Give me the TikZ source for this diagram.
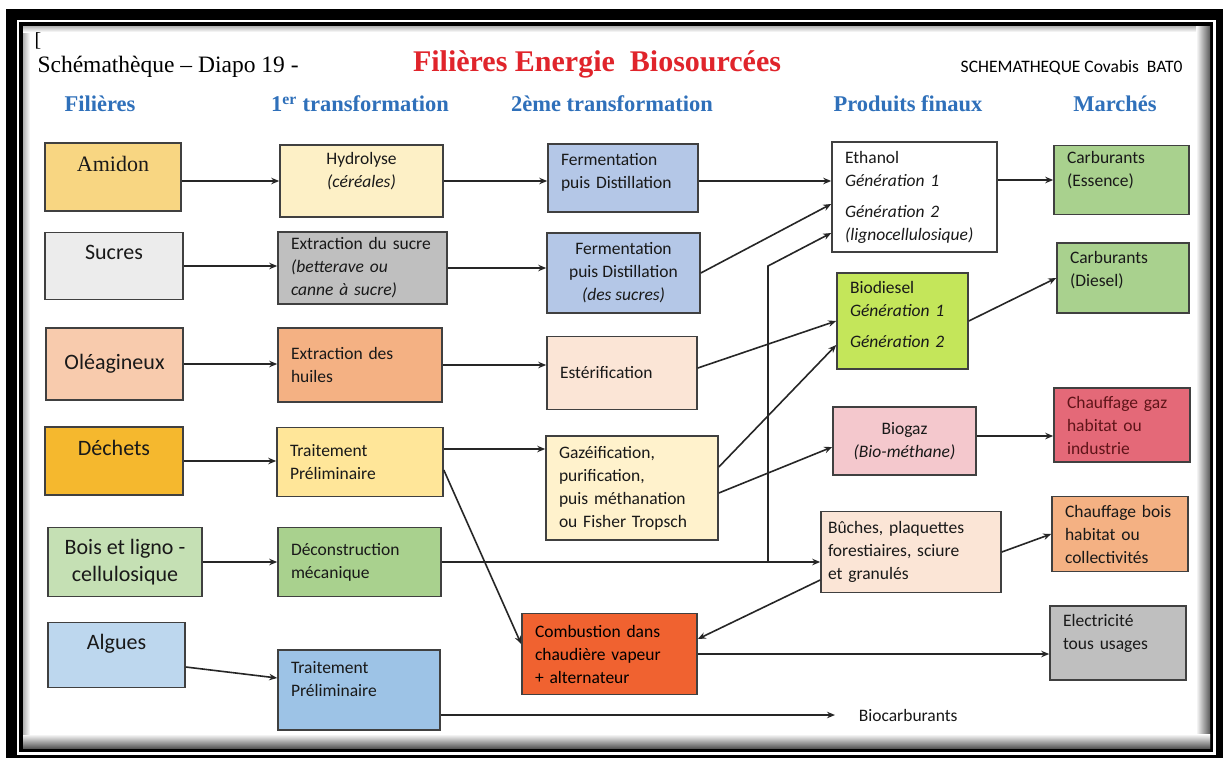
\documentclass[tikz,border=0pt]{standalone}
\usepackage{fontspec}
\setmainfont{Liberation Serif}
\setsansfont{Carlito}
\usetikzlibrary{arrows.meta,positioning,calc}
\definecolor{hdblue}{RGB}{47,112,186}
\definecolor{titred}{RGB}{224,36,43}
\definecolor{gazred}{RGB}{95,20,25}
\definecolor{amidonc}{RGB}{248,214,130}
\definecolor{hydroc}{RGB}{253,240,198}
\definecolor{sucrec}{RGB}{236,236,236}
\definecolor{grisc}{RGB}{191,191,191}
\definecolor{oleac}{RGB}{248,203,173}
\definecolor{huilec}{RGB}{244,177,131}
\definecolor{dechc}{RGB}{245,184,46}
\definecolor{traitc}{RGB}{255,230,153}
\definecolor{boisc}{RGB}{197,224,180}
\definecolor{deconc}{RGB}{169,209,142}
\definecolor{alguec}{RGB}{189,215,238}
\definecolor{traitalgc}{RGB}{157,195,230}
\definecolor{fermc}{RGB}{180,199,231}
\definecolor{esterc}{RGB}{251,229,214}
\definecolor{gazc}{RGB}{255,242,204}
\definecolor{combc}{RGB}{240,98,48}
\definecolor{biodc}{RGB}{196,230,90}
\definecolor{biogc}{RGB}{244,200,205}
\definecolor{buchc}{RGB}{251,229,214}
\definecolor{carbc}{RGB}{169,209,142}
\definecolor{chgazc}{RGB}{228,105,120}
\definecolor{chboisc}{RGB}{244,177,131}

\begin{document}
\begin{tikzpicture}[x=1pt, y=-1pt,
	box/.style={draw=black!75, line width=1.6pt, inner xsep=13pt, inner ysep=0pt, text=black!90, font=\sffamily\fontsize{17.5}{23}\selectfont},
	src/.style={box, align=center, font=\sffamily\fontsize{22}{27}\selectfont},
	lbox/.style={box, align=left},
	cbox/.style={box, align=center},
	head/.style={text=hdblue, font=\bfseries\fontsize{22.5}{26}\selectfont},
	arr/.style={-{Stealth[length=8pt, width=6.5pt]}, line width=1.6pt, black!85}]
	\useasboundingbox (0,0) rectangle (1223,758);
	\fill[white] (0,0) rectangle (1223,758);
	% cadre
	\fill[black] (6,9) rectangle (1223,758);
	\fill[white] (17,20) rectangle (1216,755);
	\fill[black] (19,22) rectangle (1213,752);
	\fill[white] (23,26) rectangle (1210,748);
	\shade[left color=white, right color=black!65] (1196,26) rectangle (1210,748);
	\shade[top color=white, bottom color=black!65] (23,734) rectangle (1210,748);
	\shade[left color=black!30, right color=white] (23,26) rectangle (30,734);
	\shade[top color=black!30, bottom color=white] (23,26) rectangle (1196,32);
	
	% titres
	\node[font=\fontsize{20}{24}\selectfont] (crochet) at (38,41) {[};
	\node[anchor=west, font=\fontsize{23.5}{28}\selectfont] (diapo) at (34,67) {Schémathèque – Diapo 19 -};
	\node[text=titred, font=\bfseries\fontsize{30}{34}\selectfont] (titre) at (597,64) {Filières Energie~ Biosourcées};
	\node[anchor=east, font=\sffamily\fontsize{17.5}{21}\selectfont] (auteur) at (1186,68) {SCHEMATHEQUE Covabis~ BAT0};
	\node[head] (hfil) at (100,104) {Filières};
	\node[head] (htr1) at (360,104) {1\textsuperscript{er} transformation};
	\node[head] (htr2) at (612,104) {2ème transformation};
	\node[head] (hprod) at (908,104) {Produits finaux};
	\node[head] (hmar) at (1115,104) {Marchés};
	
	% filieres
	\node[src, fill=amidonc, minimum width=136pt, minimum height=68pt] (amidon) at (113,177) {\rmfamily Amidon\\\mbox{}};
	\node[src, fill=sucrec, minimum width=138pt, minimum height=67pt] (sucres) at (114,266) {Sucres\\\mbox{}};
	\node[src, fill=oleac, minimum width=137pt, minimum height=72pt] (oleag) at (114.5,364) {Oléagineux};
	\node[src, fill=dechc, minimum width=138pt, minimum height=68pt] (dechets) at (114,461) {Déchets\\\mbox{}};
	\node[src, fill=boisc, minimum width=154pt, minimum height=69pt] (bois) at (125,562) {Bois et ligno -\\cellulosique};
	\node[src, fill=alguec, minimum width=137pt, minimum height=65pt] (algues) at (116.5,655) {Algues\\\mbox{}};
	
	% 1ere transformation
	\node[cbox, fill=hydroc, minimum width=163pt, minimum height=72pt] (hydro) at (361.5,181) {Hydrolyse\\\textit{(céréales)}\\\mbox{}};
	\node[lbox, fill=grisc, text width=143pt, minimum height=72pt] (extsucre) at (362.5,268) {Extraction du sucre\\\textit{(betterave ou}\\\textit{canne à sucre)}};
	\node[lbox, fill=huilec, text width=138pt, minimum height=74pt] (exthuile) at (360,365) {Extraction des\\huiles};
	\node[lbox, fill=traitc, text width=140pt, minimum height=69pt] (traitdech) at (360,462) {Traitement\\Préliminaire};
	\node[lbox, fill=deconc, text width=137pt, minimum height=69pt] (decons) at (359.5,562) {Déconstruction\\mécanique};
	\node[lbox, fill=traitalgc, text width=136pt, minimum height=80pt] (traitalg) at (359,690) {Traitement\\Préliminaire\\\mbox{}};
	
	% 2eme transformation
	\node[lbox, fill=fermc, text width=124pt, minimum height=68pt] (ferm1) at (623,178) {Fermentation\\puis Distillation\\[-9pt]\mbox{}};
	\node[cbox, fill=fermc, minimum width=153pt, minimum height=80pt] (ferm2) at (623.5,273) {Fermentation\\puis Distillation\\\textit{(des sucres)}};
	\node[lbox, fill=esterc, text width=124pt, minimum height=73pt] (ester) at (622,373) {Estérification};
	\node[lbox, fill=gazc, text width=146pt, minimum height=104pt] (gazei) at (632,488) {Gazéification,\\purification,\\puis méthanation\\ou Fisher Tropsch};
	\node[lbox, fill=combc, text width=149pt, minimum height=81pt, text=black] (combust) at (609.5,654) {Combustion dans\\chaudière vapeur\\+ alternateur};
	
	% produits finaux
	\node[lbox, fill=white, text width=139pt, minimum height=110pt] (ethanol) at (914.5,197) {Ethanol\\\textit{Génération 1}\\[8pt]\textit{Génération 2}\\\textit{(lignocellulosique)}};
	\node[lbox, fill=biodc, text width=105pt, minimum height=96pt] (biodiesel) at (902.5,321) {Biodiesel\\\textit{Génération 1}\\[8pt]\textit{Génération 2}\\[-10pt]\mbox{}};
	\node[cbox, fill=biogc, minimum width=143pt, minimum height=68pt] (biogaz) at (904.5,441) {Biogaz\\\textit{(Bio-méthane)}};
	\node[lbox, fill=buchc, inner xsep=7pt, text width=166pt, minimum height=81pt] (buches) at (911,552) {Bûches, plaquettes\\forestiaires, sciure\\et granulés};
	\node[box, anchor=west, draw=none, inner xsep=23pt] (biocarb) at (835,715) {Biocarburants};
	
	% marches
	\node[lbox, fill=carbc, text width=109pt, minimum height=69pt] (carbess) at (1121.5,180) {Carburants\\(Essence)\\\mbox{}};
	\node[lbox, fill=carbc, text width=106pt, minimum height=70pt] (carbdies) at (1123,278) {Carburants\\(Diesel)\\[-4pt]\mbox{}};
	\node[lbox, fill=chgazc, text width=110pt, minimum height=74pt, text=gazred] (chgaz) at (1122,425) {Chauffage gaz\\habitat ou\\industrie};
	\node[lbox, fill=chboisc, text width=110pt, minimum height=75pt] (chbois) at (1120,534) {Chauffage bois\\habitat ou\\collectivités};
	\node[lbox, fill=grisc, text width=110pt, minimum height=74pt] (elec) at (1118,643) {Electricité\\tous usages\\\mbox{}};
	
	\coordinate (bend) at (768,266);
	
	% fleches
	\draw[arr] (amidon.east |- hydro) -- (hydro);
	\draw[arr] (hydro) -- (hydro -| ferm1.west);
	\draw[arr] (ferm1.east |- hydro) -- (hydro -| ethanol.west);
	\draw[arr] (ethanol.east |- carbess) -- (carbess);
	\draw[arr] (sucres.east) -- (sucres.east -| extsucre.west);
	\draw[arr] (extsucre.east) -- (extsucre.east -| ferm2.west);
	\draw[arr] (ferm2.east) -- ([yshift=-7pt]ethanol.west);
	\draw[arr] (oleag.east) -- (oleag.east -| exthuile.west);
	\draw[arr] (exthuile.east) -- (exthuile.east -| ester.west);
	\draw[arr] ([yshift=5pt]ester.east) -- (biodiesel.west);
	\draw[arr] ([yshift=21pt]gazei.east) -- ([yshift=-24pt]biodiesel.west);
	\draw[arr] ([yshift=-5pt]gazei.east) -- ([yshift=-6pt]biogaz.west);
	\draw[arr] (biodiesel.east) -- (carbdies.west);
	\draw[arr] ([yshift=5pt]biogaz.east) -- ([yshift=5pt]biogaz.east -| chgaz.west);
	\draw[arr] (buches.east) -- (chbois.west);
	\draw[arr] (dechets.east) -- (dechets.east -| traitdech.west);
	\draw[arr] ([yshift=13pt]traitdech.east) -- ([yshift=13pt]traitdech.east -| gazei.west);
	\draw[arr] ([yshift=-8pt]traitdech.east) -- ([yshift=10pt]combust.west);
	\draw[arr] (bois.east) -- (decons.west);
	\draw[arr] (decons.east) -- (decons.east -| buches.west);
	\draw[arr] (bend |- decons.east) -- (bend) -- ([yshift=-36pt]ethanol.west);
	\draw[arr] ([yshift=-28pt]buches.west) -- ([yshift=15pt]combust.east);
	\draw[arr] (combust.east) -- (combust.east -| elec.west);
	\draw[arr] ([yshift=-12pt]algues.east) -- ([yshift=12pt]traitalg.west);
	\draw[arr] ([yshift=-25pt]traitalg.east) -- (biocarb.west);
\end{tikzpicture}
\end{document}
